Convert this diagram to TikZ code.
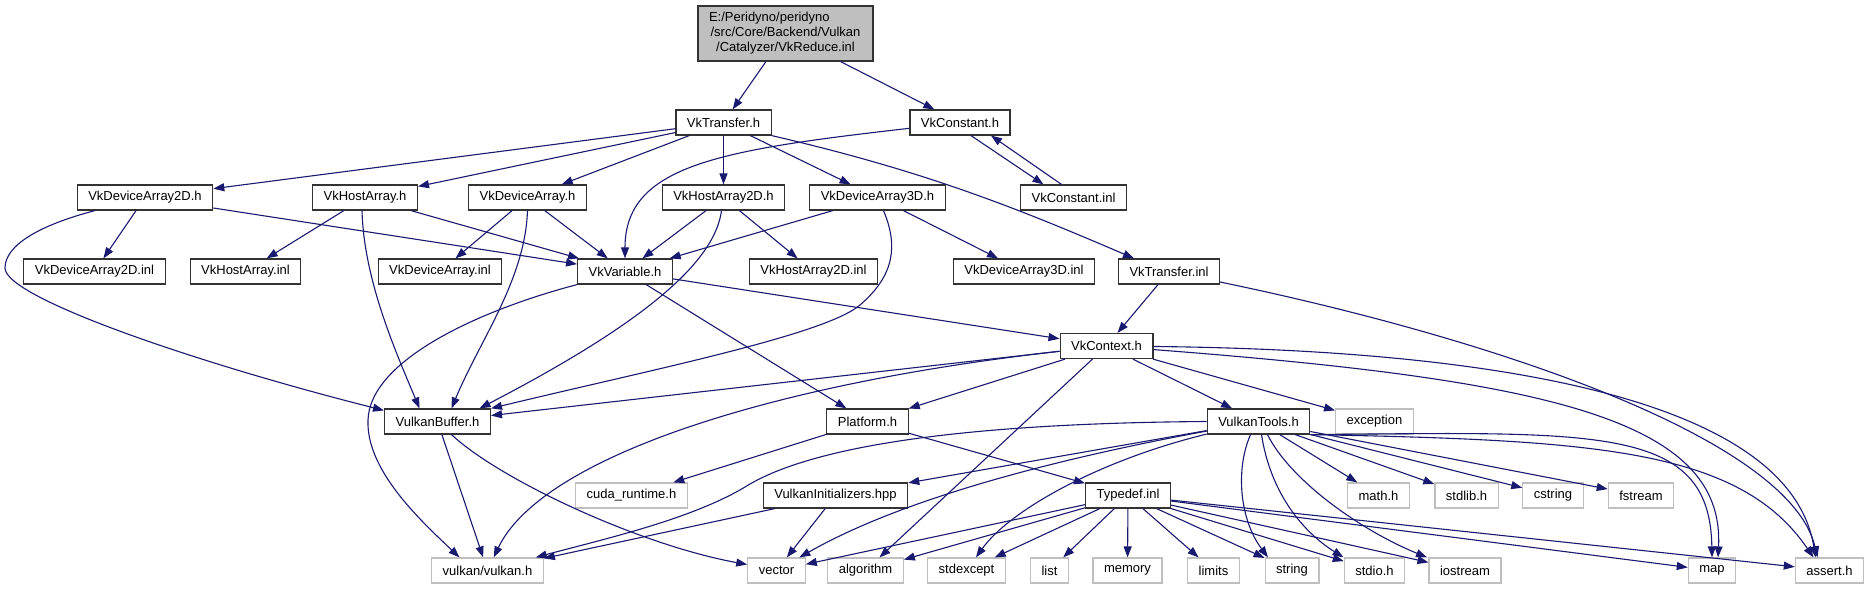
\documentclass[tikz,border=0pt]{standalone}
\usepackage{fontspec}
\setmainfont{Liberation Sans}
\usetikzlibrary{arrows.meta}
\definecolor{edgeblue}{HTML}{191970}
\definecolor{sysgray}{HTML}{BFBFBF}

\begin{document}
\begin{tikzpicture}[
  % one unit is one pixel of the graph, y runs down
  x=1pt, y=-1pt,
  every node/.style={font=\fontsize{13}{15}\selectfont, inner xsep=11pt, inner ysep=0pt, minimum height=25pt},
  file/.style={rectangle, draw=black!80, line width=1.2pt, fill=white},
  sysfile/.style={rectangle, draw=sysgray, line width=1.2pt, fill=white},
  root/.style={rectangle, draw=black!80, line width=1.2pt, fill=sysgray, align=center, text width=153pt, minimum height=55pt},
  arrow/.style={-{Triangle[length=11pt,width=8pt]}, draw=edgeblue, line width=1.1pt}
]
\useasboundingbox (0,0) rectangle (1869,589);

% --- ROOT ---
\node[root] (vkreduce) at (785.5,33.5) {E:/Peridyno/peridyno\hfill\null\\/src/Core/Backend/Vulkan\\/Catalyzer/VkReduce.inl};

% --- DIRECT INCLUDES ---
\node[file] (vktransfer) at (723.5,122.5) {VkTransfer.h};
\node[file] (vkconstant) at (960,122.5) {VkConstant.h};

% --- ARRAY HEADERS ---
\node[file] (devarr2d) at (145,197.5) {VkDeviceArray2D.h};
\node[file] (hostarr) at (365,197.5) {VkHostArray.h};
\node[file] (devarr) at (527.5,197.5) {VkDeviceArray.h};
\node[file] (hostarr2d) at (723.5,197.5) {VkHostArray2D.h};
\node[file] (devarr3d) at (877.5,197.5) {VkDeviceArray3D.h};
\node[file] (constinl) at (1073.5,197.5) {VkConstant.inl};

% --- INLINE FILES ---
\node[file] (devarr2dinl) at (94.5,271.5) {VkDeviceArray2D.inl};
\node[file] (hostarrinl) at (245.5,271.5) {VkHostArray.inl};
\node[file] (devarrinl) at (440,271.5) {VkDeviceArray.inl};
\node[file] (vkvariable) at (625,271.5) {VkVariable.h};
\node[file] (hostarr2dinl) at (813.5,271.5) {VkHostArray2D.inl};
\node[file] (devarr3dinl) at (1024,271.5) {VkDeviceArray3D.inl};
\node[file] (transferinl) at (1169,271.5) {VkTransfer.inl};

\node[file] (vkcontext) at (1106.5,346) {VkContext.h};

% --- CORE HEADERS ---
\node[file] (vkbuffer) at (437.5,421.5) {VulkanBuffer.h};
\node[file] (platform) at (867.5,421.5) {Platform.h};
\node[file] (vktools) at (1258.5,421.5) {VulkanTools.h};
\node[sysfile] (exception) at (1374.5,421.5) {exception};

\node[sysfile] (cudart) at (631.5,495.5) {cuda\_runtime.h};
\node[file] (vkinit) at (835.5,495.5) {VulkanInitializers.hpp};
\node[file] (typedef) at (1128,495.5) {Typedef.inl};
\node[sysfile] (mathh) at (1378.5,495.5) {math.h};
\node[sysfile] (stdlibh) at (1466.5,495.5) {stdlib.h};
\node[sysfile] (cstring) at (1553,495.5) {cstring};
\node[sysfile] (fstream) at (1641,495.5) {fstream};

% --- SYSTEM HEADERS ---
\node[sysfile] (vulkanh) at (487.5,570.5) {vulkan/vulkan.h};
\node[sysfile] (vector) at (776.5,570.5) {vector};
\node[sysfile] (algorithm) at (865.5,570.5) {algorithm};
\node[sysfile] (stdexcept) at (966.5,570.5) {stdexcept};
\node[sysfile] (list) at (1049.5,570.5) {list};
\node[sysfile] (memory) at (1127.5,570.5) {memory};
\node[sysfile] (limits) at (1213.5,570.5) {limits};
\node[sysfile] (string) at (1292,570.5) {string};
\node[sysfile] (stdioh) at (1374.5,570.5) {stdio.h};
\node[sysfile] (iostream) at (1465,570.5) {iostream};
\node[sysfile] (map) at (1712,570.5) {map};
\node[sysfile] (asserth) at (1829.5,570.5) {assert.h};

% --- ROOT AND TRANSFER ---
\draw[arrow] (vkreduce) -- (vktransfer);
\draw[arrow] (vkreduce) -- (vkconstant);
\draw[arrow] (vktransfer) -- (devarr2d);
\draw[arrow] (vktransfer) -- (hostarr);
\draw[arrow] (vktransfer) -- (devarr);
\draw[arrow] (vktransfer) -- (hostarr2d);
\draw[arrow] (vktransfer) -- (devarr3d);
\draw[arrow] (vktransfer.south east) .. controls (920,170) and (1010,205) .. ([xshift=-35]transferinl.north);

% --- CONSTANT ---
\draw[arrow] (vkconstant) .. controls (720,150) and (625,165) .. (vkvariable.north);
\draw[arrow] ([xshift=11]vkconstant.south) -- ([xshift=-30]constinl.north);
\draw[arrow] ([xshift=-12]constinl.north) -- ([xshift=31]vkconstant.south);

% --- ARRAYS ---
\draw[arrow] (devarr2d) -- (devarr2dinl);
\draw[arrow] (devarr2d) -- (vkvariable);
\draw[arrow] ([xshift=-50]devarr2d.south) .. controls (40,225) and (5,245) .. (5,268)
      .. controls (5,298) and (200,364) .. ([yshift=-2]vkbuffer.north west);
\draw[arrow] (hostarr) -- (hostarrinl);
\draw[arrow] (hostarr) -- (vkvariable);
\draw[arrow] ([xshift=-3]hostarr.south) .. controls (364,280) and (395,350) .. ([xshift=-18]vkbuffer.north);
\draw[arrow] (devarr) -- (devarrinl);
\draw[arrow] (devarr) -- (vkvariable);
\draw[arrow] (devarr.south) .. controls (525,280) and (480,340) .. ([xshift=14]vkbuffer.north);
\draw[arrow] (hostarr2d) -- (vkvariable);
\draw[arrow] (hostarr2d) -- (hostarr2dinl);
\draw[arrow] ([xshift=-2]hostarr2d.south) .. controls (715,260) and (650,320) .. ([xshift=42]vkbuffer.north);
\draw[arrow] (devarr3d) -- (vkvariable);
\draw[arrow] (devarr3d) -- (devarr3dinl);
\draw[arrow] ([xshift=6]devarr3d.south) .. controls (898,245) and (895,275) .. (860,305)
      .. controls (825,335) and (650,370) .. (vkbuffer.north east);

% --- VARIABLE AND CONTEXT ---
\draw[arrow] (vkvariable) -- (vkcontext);
\draw[arrow] (vkvariable) -- (platform);
\draw[arrow] (vkvariable.south west) .. controls (480,310) and (370,360) .. (368,420)
      .. controls (366,470) and (420,520) .. ([xshift=-28]vulkanh.north);
\draw[arrow] (transferinl) -- (vkcontext);
\draw[arrow] (transferinl) .. controls (1500,340) and (1790,440) .. ([xshift=-12]asserth.north);
\draw[arrow] (vkcontext) -- (vkbuffer);
\draw[arrow] (vkcontext) .. controls (760,385) and (540,460) .. (vulkanh);
\draw[arrow] (vkcontext) -- (platform);
\draw[arrow] (vkcontext) -- (algorithm);
\draw[arrow] (vkcontext) -- (vktools);
\draw[arrow] (vkcontext) -- (exception);
\draw[arrow] (vkcontext) .. controls (1550,380) and (1725,420) .. ([xshift=6]map.north);
\draw[arrow] (vkcontext) .. controls (1500,350) and (1790,400) .. ([xshift=-14]asserth.north);

% --- BUFFER AND PLATFORM ---
\draw[arrow] (vkbuffer) -- (vulkanh);
\draw[arrow] ([xshift=14]vkbuffer.south) .. controls (500,480) and (640,545) .. ([yshift=6]vector.west);
\draw[arrow] (platform) -- (cudart);
\draw[arrow] (platform) -- (typedef);
\draw[arrow] (vkinit) -- (vulkanh);
\draw[arrow] (vkinit) -- (vector);

% --- VULKAN TOOLS ---
\draw[arrow] (vktools.west) .. controls (1000,423) and (820,440) .. (745,487)
      .. controls (690,520) and (600,540) .. (vulkanh);
\draw[arrow] (vktools) -- (vkinit);
\draw[arrow] (vktools) .. controls (1050,460) and (900,500) .. (vector);
\draw[arrow] (vktools) .. controls (1100,460) and (1010,510) .. (stdexcept);
\draw[arrow] ([xshift=-8]vktools.south) .. controls (1235,470) and (1240,520) .. ([xshift=-24]string.north);
\draw[arrow] ([xshift=3]vktools.south) .. controls (1270,490) and (1300,530) .. ([xshift=-31]stdioh.north);
\draw[arrow] ([xshift=9]vktools.south) .. controls (1290,480) and (1360,530) .. ([xshift=-38]iostream.north);
\draw[arrow] (vktools) -- (mathh);
\draw[arrow] (vktools) -- (stdlibh);
\draw[arrow] (vktools) -- (cstring);
\draw[arrow] (vktools) -- (fstream);
\draw[arrow] (vktools.south east) .. controls (1600,432) and (1710,425) .. (map.north);
\draw[arrow] (vktools.south east) .. controls (1600,440) and (1740,450) .. ([xshift=-16]asserth.north);

% --- TYPEDEF ---
\draw[arrow] (typedef) -- (vector);
\draw[arrow] (typedef) -- (algorithm);
\draw[arrow] (typedef) -- (stdexcept);
\draw[arrow] (typedef) -- (list);
\draw[arrow] (typedef) -- (memory);
\draw[arrow] (typedef) -- (limits);
\draw[arrow] (typedef) -- (string);
\draw[arrow] (typedef) -- (stdioh);
\draw[arrow] (typedef) -- (iostream);
\draw[arrow] (typedef) -- (map);
\draw[arrow] (typedef) -- (asserth);

\end{tikzpicture}
\end{document}
